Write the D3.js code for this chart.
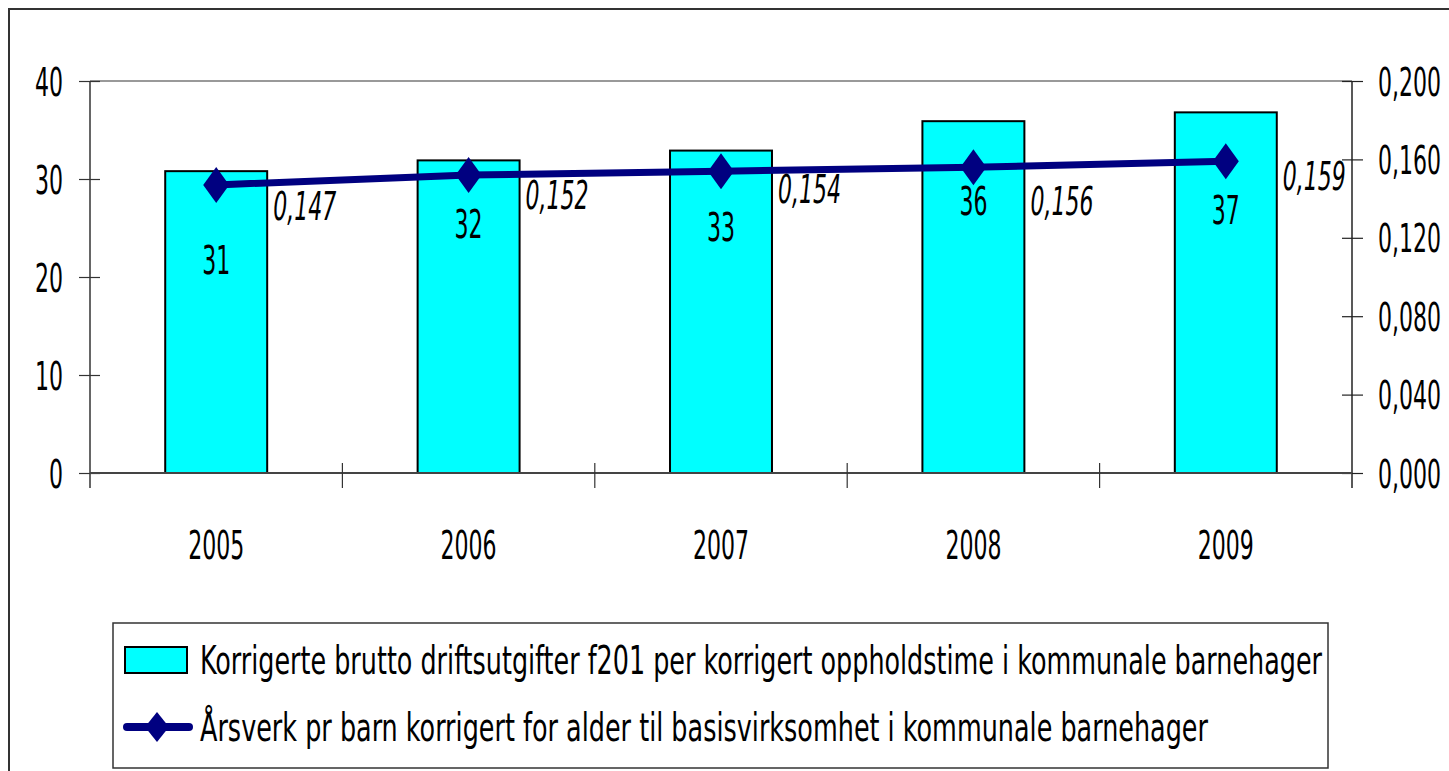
<!DOCTYPE html>
<html>
<head>
<meta charset="utf-8">
<script src="https://cdn.jsdelivr.net/npm/d3@7"></script>
<style>
  body { margin: 0; background: #fff; }
  text { font-family: "Liberation Sans Narrow", "Arial Narrow", "DejaVu Sans Condensed", sans-serif; fill: #000; }
</style>
</head>
<body>
<svg id="chart" width="1449" height="771"></svg>
<script>
const years = ["2005", "2006", "2007", "2008", "2009"];
const costPerHour = [30.8, 31.9, 32.9, 35.9, 36.8];
const staffPerChild = [0.147, 0.152, 0.154, 0.156, 0.159];
const leftTicks = [0, 10, 20, 30, 40];
const rightTicks = [0, 0.04, 0.08, 0.12, 0.16, 0.2];
const barName = "Korrigerte brutto driftsutgifter f201 per korrigert oppholdstime i kommunale barnehager";
const lineName = "Årsverk pr barn korrigert for alder til basisvirksomhet i kommunale barnehager";

// label nudges (as placed in the original)
const barLabelDy = [89, 63, 76, 80, 97];
const lineLabelDy = [21, 20, 18, 34, 14];

// the original font is tall and narrow
const SX = 0.79, SY = 1.27;
const FS = 31;
const squeeze = `scale(${SX},${SY})`;

const margin = { top: 81, right: 97, bottom: 298, left: 90 };
const svg = d3.select("svg#chart"),
  width = +svg.attr("width") - margin.left - margin.right,
  height = +svg.attr("height") - margin.top - margin.bottom;

const nb = d3.formatLocale({ decimal: ",", thousands: " ", grouping: [3], currency: ["", " kr"] });
const fmt3 = nb.format(".3f");

// outer frame
svg.append("rect")
  .attr("x", 9).attr("y", 9)
  .attr("width", 1460).attr("height", 790)
  .attr("fill", "none").attr("stroke", "#333").attr("stroke-width", 2);

const g = svg.append("g").attr("transform", `translate(${margin.left}, ${margin.top})`);

const x = d3.scaleBand().domain(years).range([0, width]).padding(0);
const y = d3.scaleLinear().domain([0, 40]).range([height, 0]);
const y2 = d3.scaleLinear().domain([0, 0.2]).range([height, 0]);

// top border of plot area
g.append("line")
  .attr("x1", 0).attr("x2", width)
  .attr("y1", 0).attr("y2", 0)
  .attr("stroke", "#999").attr("stroke-width", 2);

// bars
const bw = x.bandwidth() * 0.404;
g.selectAll(".bar")
  .data(costPerHour)
  .enter().append("rect")
  .attr("class", "bar")
  .attr("x", (d, i) => x(years[i]) + x.bandwidth() / 2 - bw / 2)
  .attr("y", d => y(d))
  .attr("width", bw)
  .attr("height", d => height - y(d))
  .attr("fill", "#00ffff")
  .attr("stroke", "#000")
  .attr("stroke-width", 2);

// left axis
const axL = g.append("g")
  .call(d3.axisLeft(y).tickValues(leftTicks).tickSize(11).tickFormat(d3.format("d")));
axL.select(".domain").attr("d", `M0,0V${height + 15}`).attr("stroke", "#333").attr("stroke-width", 1.5);
axL.selectAll(".tick line").attr("x2", 10).attr("x1", -11).attr("stroke", "#333").attr("stroke-width", 1.2);
axL.selectAll(".tick text")
  .attr("x", null).attr("dy", "0.36em")
  .attr("font-size", FS)
  .attr("transform", `translate(-27,0) ${squeeze}`);

// right axis
const axR = g.append("g")
  .attr("transform", `translate(${width}, 0)`)
  .call(d3.axisRight(y2).tickValues(rightTicks).tickSize(11).tickFormat(fmt3));
axR.select(".domain").attr("d", `M0,0V${height + 15}`).attr("stroke", "#222").attr("stroke-width", 1.5);
axR.selectAll(".tick line").attr("x1", -10).attr("x2", 11).attr("stroke", "#222").attr("stroke-width", 1.2);
axR.selectAll(".tick text")
  .attr("x", null).attr("dy", "0.36em")
  .attr("font-size", FS)
  .attr("transform", `translate(26,0) ${squeeze}`);

// bottom axis
const axB = g.append("g")
  .attr("transform", `translate(0, ${height})`)
  .call(d3.axisBottom(x).tickSize(0).tickPadding(0));
axB.select(".domain").attr("d", `M0,0H${width}`).attr("stroke", "#444").attr("stroke-width", 2);
axB.selectAll(".tick text")
  .attr("font-size", FS)
  .attr("transform", `translate(0,72) ${squeeze}`)
  .attr("dy", "0.36em")
  .attr("y", 0);
axB.selectAll(".sep")
  .data(years.slice(1))
  .enter().append("line")
  .attr("class", "sep")
  .attr("x1", d => x(d)).attr("x2", d => x(d))
  .attr("y1", -10).attr("y2", 15)
  .attr("stroke", "#333").attr("stroke-width", 1.2);

// bar value labels
g.selectAll(".barlabel")
  .data(costPerHour)
  .enter().append("text")
  .attr("class", "barlabel")
  .attr("transform", (d, i) => `translate(${x(years[i]) + x.bandwidth() / 2}, ${y(d) + barLabelDy[i]}) ${squeeze}`)
  .attr("dy", "0.36em")
  .attr("text-anchor", "middle")
  .attr("font-size", FS)
  .text(d => d3.format(".0f")(d));

// line
const cx = (d, i) => x(years[i]) + x.bandwidth() / 2;
const line = d3.line().x(cx).y(d => y2(d));
g.append("path")
  .datum(staffPerChild)
  .attr("d", line)
  .attr("fill", "none")
  .attr("stroke", "#000080")
  .attr("stroke-width", 7);

const diamond = "M0,-18L13,0L0,18L-13,0Z";
g.selectAll(".marker")
  .data(staffPerChild)
  .enter().append("path")
  .attr("class", "marker")
  .attr("d", diamond)
  .attr("transform", (d, i) => `translate(${cx(d, i)}, ${y2(d)})`)
  .attr("fill", "#000080");

g.selectAll(".linelabel")
  .data(staffPerChild)
  .enter().append("text")
  .attr("class", "linelabel")
  .attr("transform", (d, i) => `translate(${cx(d, i) + 57}, ${y2(d) + lineLabelDy[i]}) ${squeeze}`)
  .attr("dy", "0.36em")
  .attr("font-size", FS)
  .attr("font-style", "italic")
  .text(d => fmt3(d));

// legend
const legend = svg.append("g");
legend.append("rect")
  .attr("x", 113).attr("y", 623)
  .attr("width", 1215).attr("height", 145)
  .attr("fill", "#fff").attr("stroke", "#333").attr("stroke-width", 1.5);

legend.append("rect")
  .attr("x", 125).attr("y", 647)
  .attr("width", 62).attr("height", 26)
  .attr("fill", "#00ffff").attr("stroke", "#000").attr("stroke-width", 2);

legend.append("line")
  .attr("x1", 127).attr("x2", 189)
  .attr("y1", 727).attr("y2", 727)
  .attr("stroke", "#000080").attr("stroke-width", 8)
  .attr("stroke-linecap", "round");
legend.append("path")
  .attr("d", "M0,-15L12,0L0,15L-12,0Z")
  .attr("transform", "translate(157, 727)")
  .attr("fill", "#000080");

legend.selectAll(".legtext")
  .data([barName, lineName])
  .enter().append("text")
  .attr("class", "legtext")
  .attr("transform", (d, i) => `translate(200, ${660 + i * 67}) scale(1,${SY})`)
  .attr("dy", "0.36em")
  .attr("font-size", FS)
  .attr("textLength", (d, i) => [1122, 1008][i])
  .attr("lengthAdjust", "spacingAndGlyphs")
  .text(d => d);
</script>
</body>
</html>
